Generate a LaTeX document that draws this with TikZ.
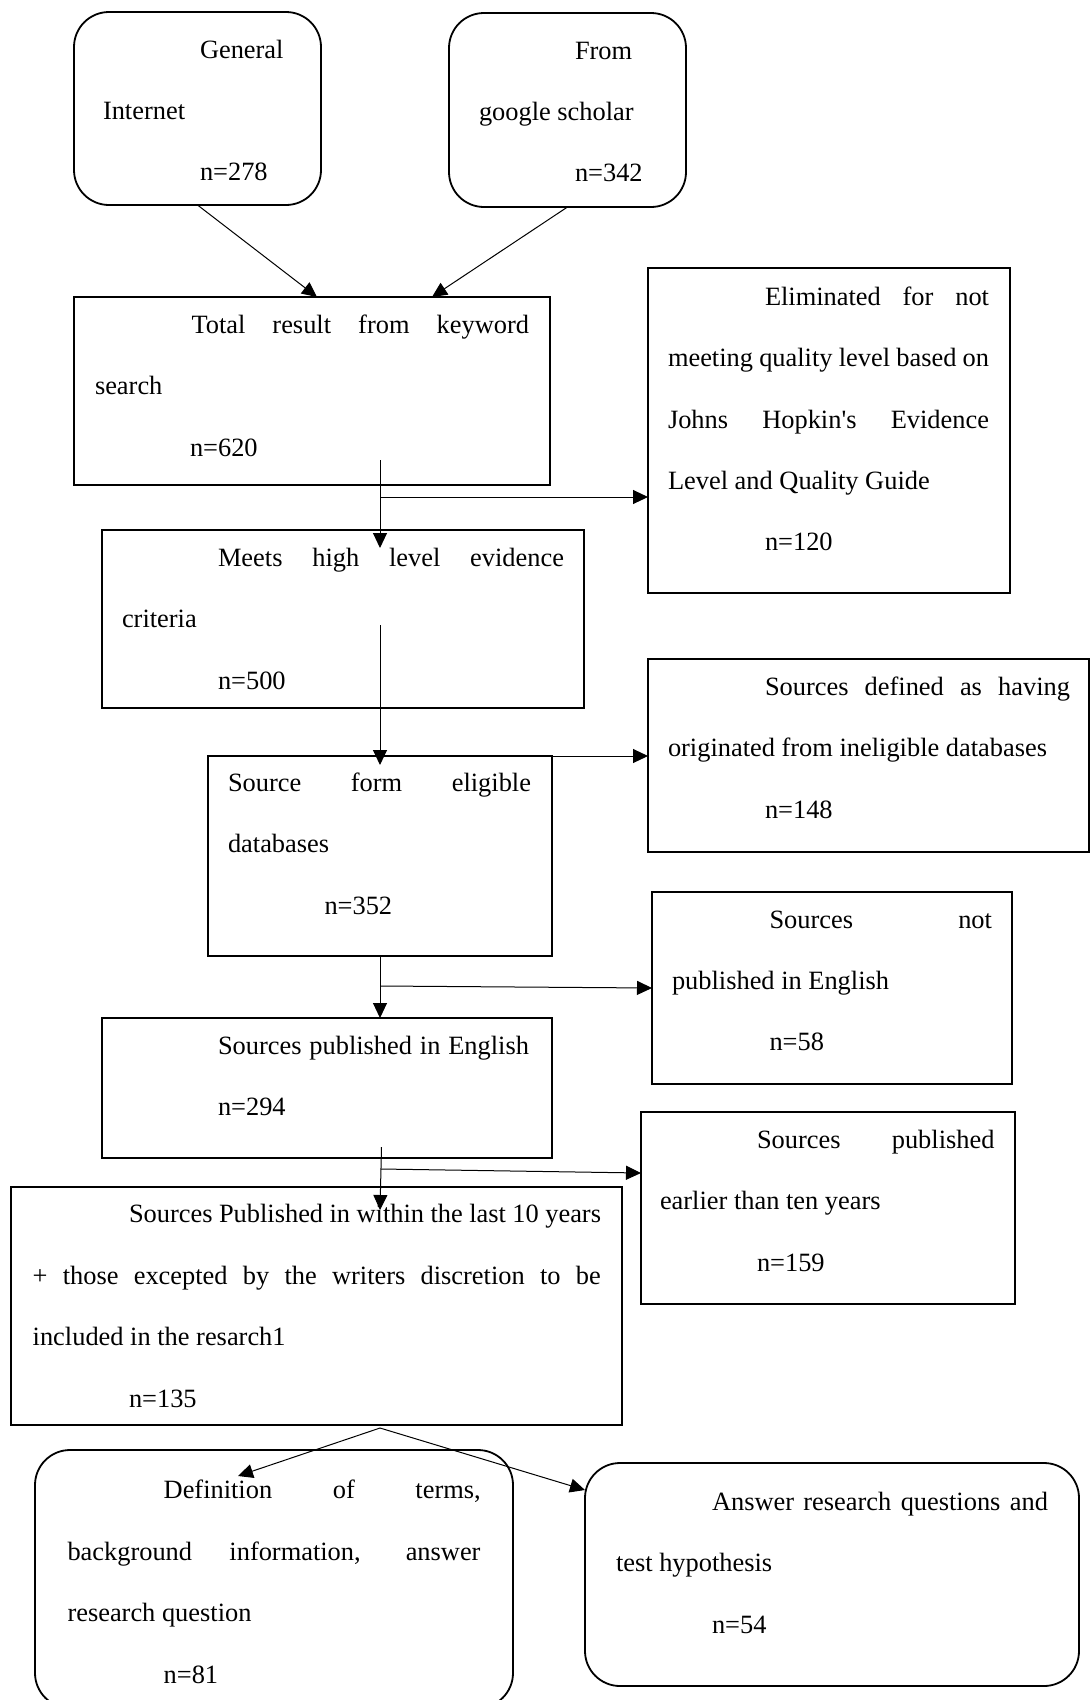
\documentclass[tikz,border=0pt]{standalone}
\usepackage{fontspec}
\setmainfont{Liberation Serif}
\usetikzlibrary{arrows.meta}
\tikzset{
  box/.style={draw, line width=1.8pt, outer sep=0pt, inner sep=0pt, anchor=north west},
  rbox/.style={box, rounded corners=35pt},
  txt/.style={anchor=base west, inner sep=0pt, outer sep=0pt, font=\fontsize{26.4pt}{30pt}\selectfont},
  arr/.style={line width=1pt, -{Triangle[length=15pt,width=14pt]}},
  plain/.style={line width=1pt}
}
\newcommand{\jl}[2]{\makebox[#1][s]{#2}}
\begin{document}
\begin{tikzpicture}[x=1pt,y=-1pt]
\useasboundingbox (0,0) rectangle (1092,1700);
\clip (0,0) rectangle (1092,1700);
% boxes
\node[rbox, minimum width=247pt, minimum height=193pt] (gen) at (74,12) {};
\node[rbox, minimum width=237pt, minimum height=194pt] (gs) at (449,13) {};
\node[box, minimum width=476pt, minimum height=188pt] (total) at (74,297) {};
\node[box, minimum width=362pt, minimum height=325pt] (elim) at (648,268) {};
\node[box, minimum width=482pt, minimum height=178pt] (meets) at (102,530) {};
\node[box, minimum width=441pt, minimum height=193pt] (defined) at (648,659) {};
\node[box, minimum width=344pt, minimum height=200pt] (source) at (208,756) {};
\node[box, minimum width=360pt, minimum height=192pt] (noteng) at (652,892) {};
\node[box, minimum width=450pt, minimum height=140pt] (english) at (102,1018) {};
\node[box, minimum width=374pt, minimum height=192pt] (earlier) at (641,1112) {};
\node[box, minimum width=611pt, minimum height=238pt] (last) at (11,1187) {};
\node[rbox, minimum width=478pt, minimum height=258pt] (def) at (35,1450) {};
\node[rbox, minimum width=494pt, minimum height=223pt] (answer) at (585,1463) {};
% texts
\node[txt] (gen1) at (200,58) {General};
\node[txt] (gen2) at (103,119) {Internet};
\node[txt] (gen3) at (200,180) {n=278};
\node[txt] (gs1) at (575,59) {From};
\node[txt] (gs2) at (479,120) {google scholar};
\node[txt] (gs3) at (575,181) {n=342};
\node[txt] (tot1) at (191.5,333) {\jl{337.5pt}{Total result from keyword}};
\node[txt] (tot2) at (95,394) {search};
\node[txt] (tot3) at (190,456) {n=620};
\node[txt] (el1) at (765,305) {\jl{224pt}{Eliminated for not}};
\node[txt] (el2) at (668,366) {\jl{321pt}{meeting quality level based on}};
\node[txt] (el3) at (668,428) {\jl{321pt}{Johns Hopkin\textquotesingle s Evidence}};
\node[txt] (el4) at (668,489) {Level and Quality Guide};
\node[txt] (el5) at (765,550) {n=120};
\node[txt] (me1) at (218,566) {\jl{346pt}{Meets high level evidence}};
\node[txt] (me2) at (122,627) {criteria};
\node[txt] (me3) at (218,689) {n=500};
\node[txt] (de1) at (765,695) {\jl{305pt}{Sources defined as having}};
\node[txt] (de2) at (668,756) {originated from ineligible databases};
\node[txt] (de3) at (765,818) {n=148};
\node[txt] (so1) at (228,791) {\jl{303pt}{Source form eligible}};
\node[txt] (so2) at (228,852) {databases};
\node[txt] (so3) at (324.5,914) {n=352};
\node[txt] (ne1) at (769.5,928) {\jl{222.5pt}{Sources not}};
\node[txt] (ne2) at (672,989) {published in English};
\node[txt] (ne3) at (769.5,1050) {n=58};
\node[txt] (en1) at (218,1054) {\jl{311pt}{Sources published in English}};
\node[txt] (en2) at (218,1115) {n=294};
\node[txt] (ea1) at (757,1148) {\jl{237.5pt}{Sources published}};
\node[txt] (ea2) at (660,1209) {earlier than ten years};
\node[txt] (ea3) at (757,1271) {n=159};
\node[txt] (la1) at (129,1222) {\jl{472pt}{Sources Published in within the last 10 years}};
\node[txt] (la2) at (32.7,1284) {\jl{568pt}{+ those excepted by the writers discretion to be}};
\node[txt] (la3) at (32.7,1345) {included in the resarch1};
\node[txt] (la4) at (129,1407) {n=135};
\node[txt] (df1) at (163.7,1498) {\jl{317pt}{Definition of terms,}};
\node[txt] (df2) at (67.5,1560) {\jl{413pt}{background information, answer}};
\node[txt] (df3) at (67.5,1621) {research question};
\node[txt] (df4) at (163.7,1683) {n=81};
\node[txt] (an1) at (712,1510) {\jl{336pt}{Answer research questions and}};
\node[txt] (an2) at (616,1571) {test hypothesis};
\node[txt] (an3) at (712,1633) {n=54};
% connector points
\coordinate (c1s) at (380,460);
\coordinate (c1j) at (380,497);
\coordinate (c1e) at (380,548);
\coordinate (c2s) at (380,625);
\coordinate (c2e) at (380,765);
\coordinate (c3j) at (381,986);
\coordinate (c4s) at (381.5,1147);
\coordinate (c4j) at (381,1169);
\coordinate (c4e) at (380,1210);
\coordinate (c4t) at (641,1173);
\coordinate (apex) at (380,1428);
\coordinate (deft) at (238,1476);
\coordinate (anst) at (585,1490);
% connectors
\draw[arr] (gen.south) -- ([xshift=5pt]total.north);
\draw[arr] (gs.south) -- ([xshift=120pt]total.north);
\draw[arr] (c1s) -- (c1e);
\draw[arr] (c1j) -- (c1j -| elim.west);
\draw[arr] (c2s) -- (c2e);
\draw[arr] (source.north east) -- (source.north east -| defined.west);
\draw[arr] (source.south) -- (source.south |- english.north);
\draw[arr] (c3j) -- (noteng.west);
\draw[arr] (c4s) -- (c4e);
\draw[arr] (c4j) -- (c4t);
\draw[arr] (apex) -- (deft);
\draw[arr] (apex) -- (anst);
\end{tikzpicture}
\end{document}
